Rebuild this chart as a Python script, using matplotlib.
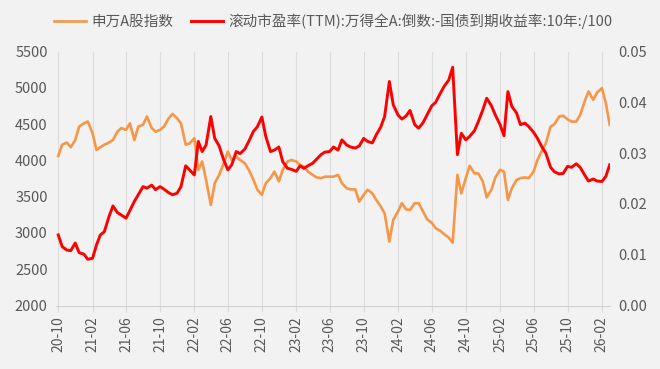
import matplotlib
matplotlib.use("Agg")
import matplotlib.pyplot as plt
import pandas as pd

plt.rcParams['font.family'] = ['Noto Sans CJK SC', 'DejaVu Sans']

# half-monthly readings, Oct 2020 -> Mar 2026
dates = pd.date_range('2020-10-01', periods=131, freq='SMS')

sw_index = [
    4060, 4215, 4245, 4180, 4280, 4465, 4510, 4535, 4375, 4145,
    4180, 4215, 4245, 4280, 4395, 4445, 4420, 4510, 4280, 4465,
    4490, 4605, 4445, 4395, 4420, 4465, 4580, 4640, 4580, 4510,
    4215, 4235, 4305, 3870, 3985, 3730, 3385, 3685, 3800, 3935,
    4120, 4005, 4050, 4005, 3960, 3870, 3730, 3595, 3525, 3685,
    3755, 3845, 3710, 3870, 3985, 4005, 3985, 3935, 3915, 3845,
    3800, 3765, 3755, 3775, 3775, 3775, 3800, 3685, 3615, 3600,
    3600, 3430, 3525, 3595, 3545, 3455, 3365, 3270, 2880, 3180,
    3295, 3410, 3325, 3315, 3410, 3410, 3295, 3190, 3140, 3065,
    3030, 2985, 2935, 2865, 3800, 3545, 3755, 3925, 3820, 3820,
    3710, 3490, 3595, 3765, 3870, 3845, 3455, 3615, 3730, 3755,
    3765, 3755, 3845, 4005, 4135, 4235, 4465, 4500, 4605, 4615,
    4565, 4535, 4535, 4625, 4810, 4950, 4835, 4935, 4995, 4790, 4490,
]

erp = [
    0.0139, 0.0116, 0.0109, 0.0108, 0.0123, 0.0104, 0.0101, 0.0091, 0.0093, 0.0119,
    0.0139, 0.0145, 0.0175, 0.0196, 0.0183, 0.0178, 0.0172, 0.0187, 0.0205, 0.0218,
    0.0234, 0.0231, 0.0237, 0.0228, 0.0234, 0.0229, 0.0222, 0.0218, 0.0221, 0.0234,
    0.0275, 0.0267, 0.0257, 0.0323, 0.0303, 0.0316, 0.0372, 0.0329, 0.0314, 0.0290,
    0.0267, 0.0277, 0.0303, 0.0299, 0.0308, 0.0323, 0.0343, 0.0352, 0.0371, 0.0333,
    0.0303, 0.0306, 0.0312, 0.0283, 0.0270, 0.0268, 0.0264, 0.0275, 0.0270, 0.0275,
    0.0280, 0.0288, 0.0297, 0.0302, 0.0303, 0.0312, 0.0306, 0.0326, 0.0316, 0.0312,
    0.0310, 0.0314, 0.0329, 0.0323, 0.0320, 0.0336, 0.0351, 0.0372, 0.0441, 0.0395,
    0.0375, 0.0367, 0.0373, 0.0384, 0.0356, 0.0349, 0.0360, 0.0375, 0.0393, 0.0400,
    0.0417, 0.0431, 0.0444, 0.0469, 0.0297, 0.0339, 0.0326, 0.0333, 0.0344, 0.0362,
    0.0385, 0.0408, 0.0393, 0.0375, 0.0356, 0.0334, 0.0421, 0.0392, 0.0379, 0.0356,
    0.0359, 0.0352, 0.0341, 0.0329, 0.0312, 0.0300, 0.0272, 0.0263, 0.0259, 0.0260,
    0.0274, 0.0272, 0.0279, 0.0272, 0.0257, 0.0245, 0.0249, 0.0245, 0.0244, 0.0254, 0.0277,
]

tick_dates = pd.date_range('2020-10-01', '2026-02-01', freq='4MS')
tick_labels = [d.strftime('%y-%m') for d in tick_dates]

left_ticks = [2000, 2500, 3000, 3500, 4000, 4500, 5000, 5500]
right_ticks = [0.00, 0.01, 0.02, 0.03, 0.04, 0.05]

label1 = '申万A股指数'
label2 = '滚动市盈率(TTM):万得全A:倒数:-国债到期收益率:10年:/100'

bg = '#f2f2f2'
txt = '#595959'
orange = '#f79646'
red = '#ff0000'

fig = plt.figure(figsize=(6.6, 3.69), dpi=100, facecolor=bg)
ax = fig.add_axes([56 / 660, (369 - 305.5) / 369, 554 / 660, 254 / 369])
ax.set_facecolor(bg)
ax2 = ax.twinx()
ax2.patch.set_visible(False)

l1, = ax.plot(dates, sw_index, color=orange, lw=1.9, label=label1)
l2, = ax2.plot(dates, erp, color=red, lw=2.1, label=label2)

ax.set_xlim(pd.Timestamp('2020-09-23'), pd.Timestamp('2026-03-02'))
ax.set_ylim(2000, 5500)
ax2.set_ylim(0, 0.05)

ax.set_xticks(tick_dates)
ax.set_xticklabels(tick_labels, rotation=90)
ax.set_yticks(left_ticks)
ax2.set_yticks(right_ticks)
ax2.set_yticklabels(['%.2f' % t for t in right_ticks])

ax.grid(axis='x', color='#dcdcdc', lw=0.8)
ax.set_axisbelow(True)

for a in (ax, ax2):
    for s in ('top', 'left', 'right'):
        a.spines[s].set_visible(False)
    a.spines['bottom'].set_color('#d0d0d0')
    a.tick_params(axis='y', length=0, labelsize=10.5, labelcolor=txt, pad=6)
ax2.spines['bottom'].set_visible(False)
ax.tick_params(axis='x', length=4.5, color='#dcdcdc', labelsize=10, labelcolor=txt, pad=3)

fig.legend(handles=[l1, l2], loc='upper center', bbox_to_anchor=(0.505, 1.0),
           ncol=2, frameon=False, fontsize=10.5, labelcolor=txt,
           handlelength=2.2, handletextpad=0.4, columnspacing=1.2)

fig.savefig('out.png', dpi=100, facecolor=bg)
